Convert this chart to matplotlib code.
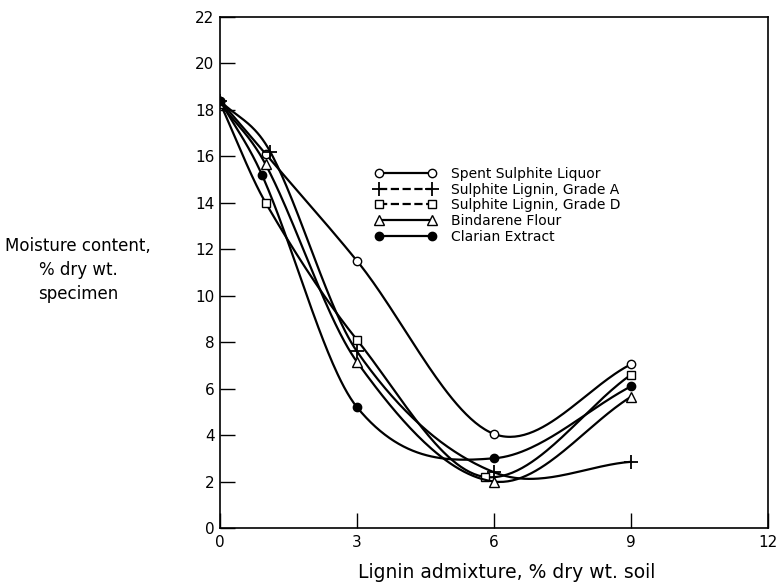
import numpy as np
import matplotlib
matplotlib.use("Agg")
import matplotlib.pyplot as plt
from matplotlib.lines import Line2D

# readings: lignin admixture (% dry wt. soil) -> moisture (% dry wt.)
spent_x = [0, 1.0, 3, 6, 9]
spent_y = [18.4, 16.1, 11.5, 4.05, 7.05]
gradeA_x = [0, 1.1, 3, 6, 9]
gradeA_y = [18.4, 16.2, 7.6, 2.4, 2.85]
gradeD_x = [0, 1.0, 3, 5.8, 9]
gradeD_y = [18.3, 14.0, 8.1, 2.2, 6.6]
bind_x = [0, 1.0, 3, 6, 9]
bind_y = [18.3, 15.65, 7.15, 2.0, 5.65]
clar_x = [0, 0.92, 3, 6, 9]
clar_y = [18.4, 15.2, 5.2, 3.0, 6.1]

labels = ["Spent Sulphite Liquor", "Sulphite Lignin, Grade A",
          "Sulphite Lignin, Grade D", "Bindarene Flour", "Clarian Extract"]


def smooth(x, y, n=60):
    # cubic Hermite curve with Catmull-Rom style tangents through the read points
    x = np.asarray(x, float)
    y = np.asarray(y, float)
    m = np.empty_like(y)
    m[1:-1] = (y[2:] - y[:-2]) / (x[2:] - x[:-2])
    m[0] = (y[1] - y[0]) / (x[1] - x[0])
    m[-1] = (y[-1] - y[-2]) / (x[-1] - x[-2])
    xs_all, ys_all = [], []
    for i in range(len(x) - 1):
        h = x[i + 1] - x[i]
        t = np.linspace(0, 1, n)
        h00 = 2 * t**3 - 3 * t**2 + 1
        h10 = t**3 - 2 * t**2 + t
        h01 = -2 * t**3 + 3 * t**2
        h11 = t**3 - t**2
        xs_all.append(x[i] + t * h)
        ys_all.append(h00 * y[i] + h10 * h * m[i] + h01 * y[i + 1] + h11 * h * m[i + 1])
    return np.concatenate(xs_all), np.concatenate(ys_all)


plt.rcParams["font.family"] = ["DejaVu Sans"]
fig = plt.figure(figsize=(7.79, 5.85), dpi=100)
ax = fig.add_axes([220 / 779, 1 - 528 / 585, 548 / 779, 511 / 585])

series = [
    (spent_x, spent_y, dict(marker="o", mfc="white", ms=6)),
    (gradeA_x, gradeA_y, dict(marker="+", ms=10, mew=1.3)),
    (gradeD_x, gradeD_y, dict(marker="s", mfc="white", ms=5.5)),
    (bind_x, bind_y, dict(marker="^", mfc="white", ms=6.5)),
    (clar_x, clar_y, dict(marker="o", mfc="black", ms=6)),
]
for x, y, mk in series:
    xs, ys = smooth(x, y)
    ax.plot(xs, ys, color="black", lw=1.6)
    ax.plot(x, y, ls="none", color="black", mec="black", **mk)

handles = []
styles = ["-", "--", "--", "-", "-"]
for (x, y, mk), ls, lab in zip(series, styles, labels):
    handles.append(Line2D([], [], color="black", lw=1.6, ls=ls, label=lab,
                          mec="black", **mk))
ax.legend(handles=handles, loc="upper left", bbox_to_anchor=(368 / 779, 1 - 160 / 585),
          bbox_transform=fig.transFigure, frameon=False, numpoints=2,
          handlelength=4.4, handletextpad=1.1, labelspacing=0.12,
          borderpad=0, fontsize=10)

ax.set_xlim(0, 12)
ax.set_ylim(0, 22)
ax.set_xticks([0, 3, 6, 9, 12])
ax.set_yticks(range(0, 23, 2))
ax.tick_params(direction="in", length=11, width=1, labelsize=11)
ax.tick_params(axis="y", pad=4)
ax.tick_params(axis="x", pad=5)
for s in ax.spines.values():
    s.set_linewidth(1.2)

ax.set_xlabel("Lignin admixture, % dry wt. soil", fontsize=13.5)
ax.xaxis.set_label_coords((507 - 220) / 548, -(572 - 528) / 511)
ax.xaxis.label.set_va("center")
fig.text(78 / 779, 1 - 270 / 585, "Moisture content,\n% dry wt.\nspecimen",
         ha="center", va="center", fontsize=12, linespacing=1.4)

fig.savefig("out.png", dpi=100)
